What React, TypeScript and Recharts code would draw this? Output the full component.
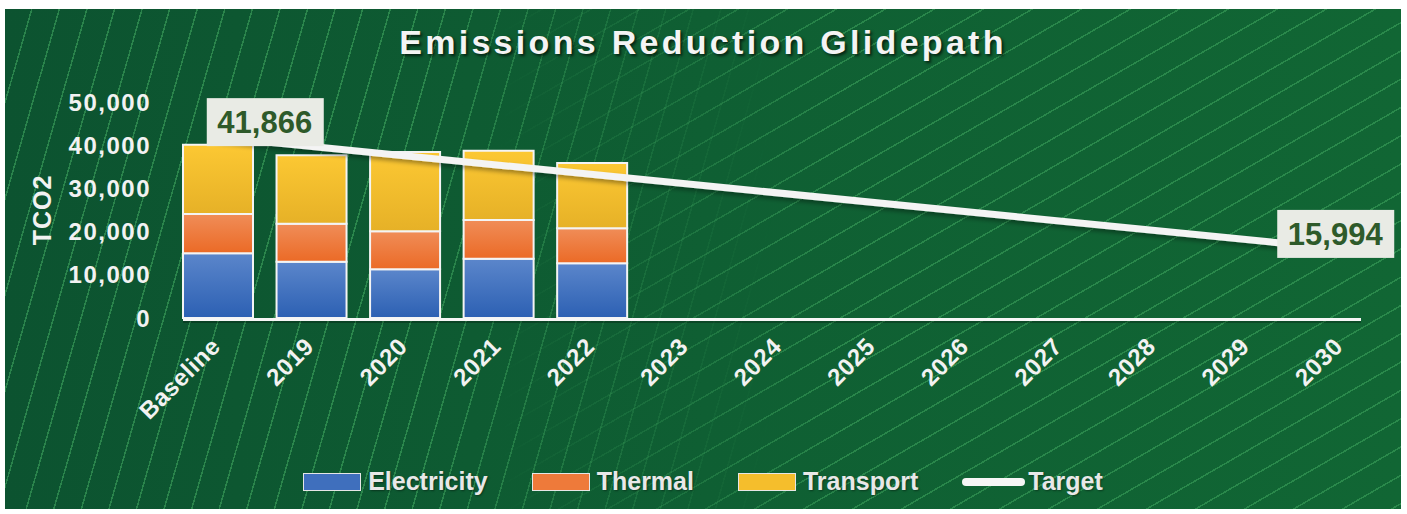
import {
  ComposedChart,
  Bar,
  Line,
  XAxis,
  YAxis,
  ReferenceLine,
} from "recharts";

// ---- data ----
const categories = [
  "Baseline", "2019", "2020", "2021", "2022", "2023", "2024",
  "2025", "2026", "2027", "2028", "2029", "2030",
];
const electricity = [15000, 13000, 11300, 13700, 12700, null, null, null, null, null, null, null, null];
const thermal = [9100, 8800, 8800, 9000, 8100, null, null, null, null, null, null, null, null];
const transport = [16000, 15900, 18300, 16000, 15100, null, null, null, null, null, null, null, null];
// target glidepath: only the two end values are given, the line joins them
const target = [41866, null, null, null, null, null, null, null, null, null, null, null, 15994];
const yTicks = [0, 10000, 20000, 30000, 40000, 50000];

const chartData = categories.map((name, i) => ({
  name,
  electricity: electricity[i],
  thermal: thermal[i],
  transport: transport[i],
  target: target[i],
}));

const FONT = '"Liberation Sans", Arial, Helvetica, sans-serif';
const TEXT = "#f2f2f2";
const W = 1396;
const H = 500;

const fmt = (v: number) => v.toLocaleString("en-US");

// rotated category labels
const XTick = (props: any) => {
  const { x, y, payload } = props;
  return (
    <g transform={`translate(${x + 4},${y + 30})`}>
      <text
        x={0}
        y={0}
        textAnchor="end"
        transform="rotate(-45)"
        fill={TEXT}
        fontSize={24}
        fontWeight={700}
        letterSpacing={0.5}
        fontFamily={FONT}
      >
        {payload.value}
      </text>
    </g>
  );
};

// value boxes on the ends of the target line
const TargetLabel = (props: any) => {
  const { x, y, value, index } = props;
  if (value == null || x == null || y == null) return null;
  const cx = index === 0 ? x + 47 : x - 5;
  const cy = y - 15;
  return (
    <g>
      <rect x={cx - 58} y={cy - 24} width={117} height={48} fill="#e9ebe5" />
      <text
        x={cx}
        y={cy + 11}
        textAnchor="middle"
        fill="#2e5a2a"
        fontSize={31}
        fontWeight={700}
        fontFamily={FONT}
      >
        {fmt(value)}
      </text>
    </g>
  );
};

const AxisLineShape = (props: any) => {
  const { x1, x2, y1 } = props;
  return (
    <g>
      <line x1={x1 + 12} x2={x2 - 26} y1={y1 + 3.5} y2={y1 + 3.5} stroke="#000" strokeOpacity={0.25} strokeWidth={3} />
      <line x1={x1 + 12} x2={x2 - 26} y1={y1 + 1.5} y2={y1 + 1.5} stroke="#f6f6f6" strokeWidth={3} />
    </g>
  );
};

const legendItems = [
  { label: "Electricity", color: "#3f6fbd" },
  { label: "Thermal", color: "#ee7a3a" },
  { label: "Transport", color: "#f5be2c" },
];

export default function App() {
  return (
    <div
      style={{
        position: "absolute",
        left: 5,
        top: 9,
        width: W,
        height: H,
        overflow: "hidden",
        background: "linear-gradient(to right, #0c5330, #0f5f33 50%, #116634)",
        fontFamily: FONT,
      }}
    >
      {/* diagonal line texture */}
      <div
        style={{
          position: "absolute",
          inset: 0,
          background:
            "repeating-linear-gradient(106deg, transparent 0px, transparent 25px, rgba(80,190,110,0.45) 25px, rgba(80,190,110,0.45) 26.5px)",
          WebkitMaskImage: "linear-gradient(to right, black 30%, transparent 55%)",
          maskImage: "linear-gradient(to right, black 30%, transparent 55%)",
        }}
      />
      <div
        style={{
          position: "absolute",
          inset: 0,
          background:
            "repeating-linear-gradient(150deg, transparent 0px, transparent 23px, rgba(80,190,110,0.4) 23px, rgba(80,190,110,0.4) 24.5px)",
          WebkitMaskImage: "linear-gradient(to right, transparent 35%, black 60%)",
          maskImage: "linear-gradient(to right, transparent 35%, black 60%)",
        }}
      />

      <svg width={0} height={0} style={{ position: "absolute" }}>
        <defs>
          <linearGradient id="gElec" x1="0" y1="0" x2="0" y2="1">
            <stop offset="0%" stopColor="#5b86cb" />
            <stop offset="100%" stopColor="#2c60b3" />
          </linearGradient>
          <linearGradient id="gTherm" x1="0" y1="0" x2="0" y2="1">
            <stop offset="0%" stopColor="#f08d58" />
            <stop offset="100%" stopColor="#eb6a26" />
          </linearGradient>
          <linearGradient id="gTrans" x1="0" y1="0" x2="0" y2="1">
            <stop offset="0%" stopColor="#fcc833" />
            <stop offset="100%" stopColor="#e6b127" />
          </linearGradient>
          <filter id="lineShadow" x="-5%" y="-50%" width="110%" height="200%">
            <feDropShadow dx="0" dy="3" stdDeviation="2" floodColor="#000" floodOpacity="0.35" />
          </filter>
        </defs>
      </svg>

      <div
        style={{
          position: "absolute",
          top: 14,
          left: 0,
          width: W,
          textAlign: "center",
          color: "#f4f4f4",
          fontSize: 34,
          fontWeight: 700,
          letterSpacing: 3.3,
          textShadow: "2px 2px 3px rgba(0,0,0,0.65)",
        }}
      >
        Emissions Reduction Glidepath
      </div>

      <div style={{ position: "absolute", left: 0, top: 0 }}>
        <ComposedChart
          width={W}
          height={H}
          data={chartData}
          margin={{ top: 93, right: 14, bottom: 71, left: 0 }}
        >
          <XAxis
            dataKey="name"
            axisLine={false}
            tickLine={false}
            tickSize={0}
            tickMargin={0}
            height={120}
            interval={0}
            tick={<XTick />}
          />
          <YAxis
            width={166}
            domain={[0, 50000]}
            ticks={yTicks}
            axisLine={false}
            tickLine={false}
            tickSize={0}
            tickMargin={20}
            tickFormatter={fmt}
            tick={{ fill: TEXT, fontSize: 24, fontWeight: 700, fontFamily: FONT, letterSpacing: 1.5 }}
            label={{
              content: (p: any) => {
                const vb = p.viewBox || { x: 0, y: 93, height: 216 };
                const cx = vb.x + 46;
                const cy = vb.y + vb.height / 2;
                return (
                  <text
                    x={cx}
                    y={cy}
                    textAnchor="middle"
                    transform={`rotate(-90, ${cx}, ${cy})`}
                    fill={TEXT}
                    fontSize={25}
                    fontWeight={700}
                    letterSpacing={1}
                    fontFamily={FONT}
                  >
                    TCO2
                  </text>
                );
              },
            }}
          />
          <Bar dataKey="electricity" stackId="a" barSize={70} fill="url(#gElec)" stroke="#f4f4f4" strokeWidth={2} isAnimationActive={false} />
          <Bar dataKey="thermal" stackId="a" barSize={70} fill="url(#gTherm)" stroke="#f4f4f4" strokeWidth={2} isAnimationActive={false} />
          <Bar dataKey="transport" stackId="a" barSize={70} fill="url(#gTrans)" stroke="#f4f4f4" strokeWidth={2} isAnimationActive={false} />
          <ReferenceLine y={0} ifOverflow="visible" shape={<AxisLineShape />} />
          <Line
            dataKey="target"
            type="linear"
            stroke="#f4f4f4"
            strokeWidth={7}
            connectNulls
            dot={false}
            activeDot={false}
            filter="url(#lineShadow)"
            label={<TargetLabel />}
            isAnimationActive={false}
          />
        </ComposedChart>
      </div>

      {/* legend */}
      <div
        style={{
          position: "absolute",
          top: 458,
          left: 0,
          width: W,
          display: "flex",
          justifyContent: "center",
          alignItems: "center",
          gap: 44,
          color: "#e8e8e8",
          fontSize: 25,
          fontWeight: 700,
          textShadow: "1px 1px 2px rgba(0,0,0,0.4)",
        }}
      >
        {legendItems.map((it) => (
          <div key={it.label} style={{ display: "flex", alignItems: "center", gap: 7 }}>
            <div
              style={{
                width: 56,
                height: 16,
                background: it.color,
                border: "1.5px solid #e6e6e6",
              }}
            />
            <span>{it.label}</span>
          </div>
        ))}
        <div style={{ display: "flex", alignItems: "center", gap: 3 }}>
          <div style={{ width: 63, height: 8, borderRadius: 4, background: "#f6f6f6" }} />
          <span>Target</span>
        </div>
      </div>
    </div>
  );
}
